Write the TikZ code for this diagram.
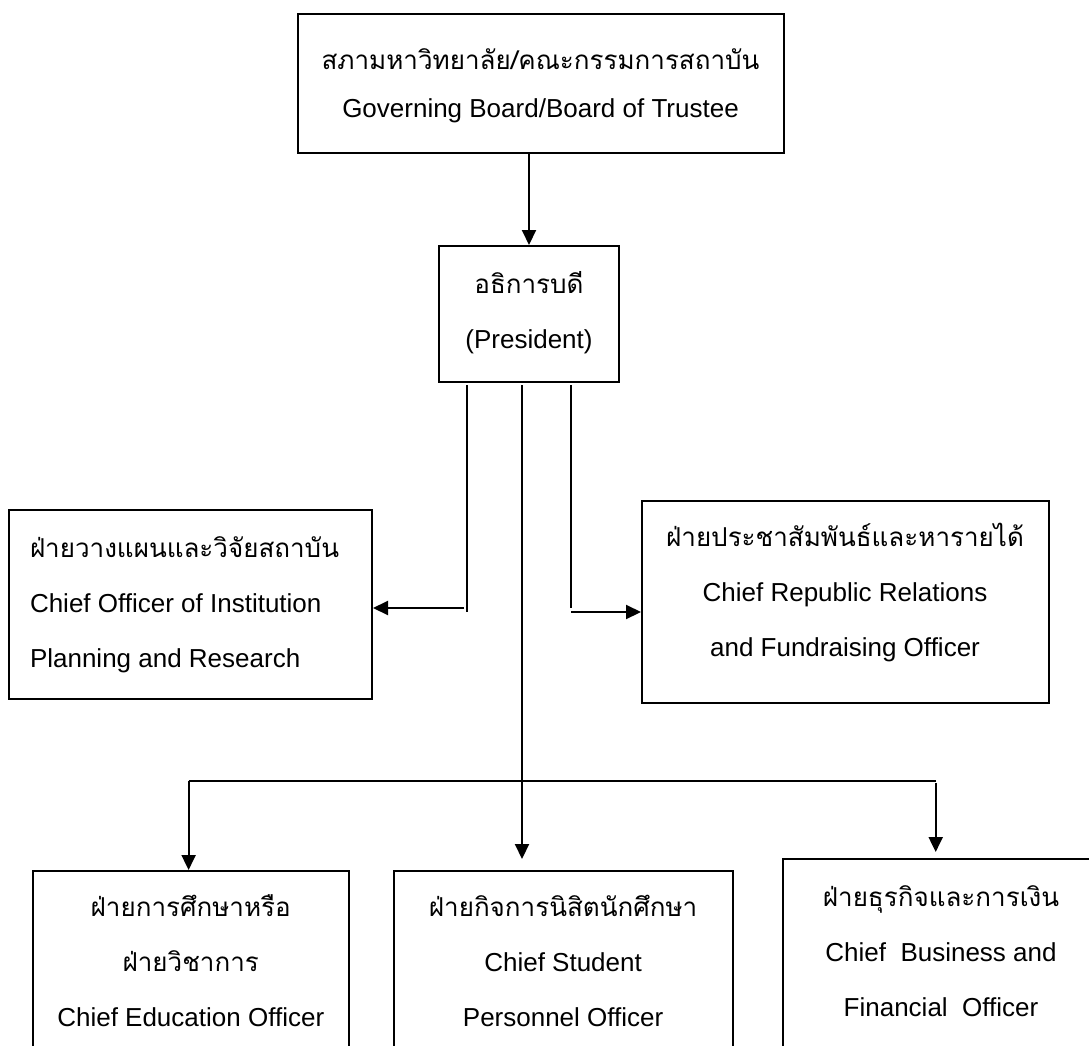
\documentclass[tikz,border=0pt]{standalone}
\usepackage{fontspec}
\setmainfont{Liberation Sans}
\newfontfamily\thaifont[Script=Thai]{Loma}
\usetikzlibrary{arrows.meta}
% fixes the height of the first line so its baseline can be placed exactly
\newcommand\firststrut{\rule{0pt}{34pt}}
\begin{document}
\begin{tikzpicture}[x=1pt, y=-1pt,
  box/.style={draw, rectangle, line width=2pt, inner sep=0pt},
  boxtext/.style={inner sep=0pt, outer sep=0pt, align=center, font=\fontsize{26}{55}\selectfont},
  link/.style={line width=2.1pt},
  arr/.style={link, -{Triangle[length=15pt,width=14pt]}}
]
\useasboundingbox (0,0) rectangle (1089,1046);
\clip (0,0) rectangle (1089,1046);

% ---- boxes ----
\node[box, minimum width=486pt, minimum height=139.3pt] (gov) at (540.5,83.7) {};
\node[box, minimum width=180pt, minimum height=136pt] (pres) at (529,314) {};
\node[box, minimum width=363pt, minimum height=189pt] (plan) at (190.5,604.5) {};
\node[box, minimum width=406.5pt, minimum height=202.3pt] (pubrel) at (845.25,602.2) {};
\node[box, minimum width=316.5pt, minimum height=239pt] (edu) at (190.75,990.5) {};
\node[box, minimum width=339pt, minimum height=239pt] (stud) at (563.1,990.5) {};
\node[box, minimum width=315.7pt, minimum height=251pt] (fin) at (941.15,984.5) {};

% ---- texts ----
\node[boxtext, anchor=north, font=\fontsize{26}{47.5}\selectfont] (gov-t) at (540.5,36)
  {\firststrut{\thaifont สภามหาวิทยาลัย/คณะกรรมการสถาบัน}\\Governing Board/Board of Trustee};
\node[boxtext, anchor=north] (pres-t) at (529,259)
  {\firststrut{\thaifont อธิการบดี}\\(President)};
\node[boxtext, anchor=north west, align=left] (plan-t) at (30,523)
  {\firststrut{\thaifont ฝ่ายวางแผนและวิจัยสถาบัน}\\Chief Officer of Institution\\Planning and Research};
\node[boxtext, anchor=north] (pubrel-t) at (845,512.7)
  {\firststrut{\thaifont ฝ่ายประชาสัมพันธ์และหารายได้}\\Chief Republic Relations\\and Fundraising Officer};
\node[boxtext, anchor=north] (edu-t) at (190.75,882.7)
  {\firststrut{\thaifont ฝ่ายการศึกษาหรือ}\\{\thaifont ฝ่ายวิชาการ}\\Chief Education Officer};
\node[boxtext, anchor=north] (stud-t) at (563.1,882.7)
  {\firststrut{\thaifont ฝ่ายกิจการนิสิตนักศึกษา}\\Chief Student\\Personnel Officer};
\node[boxtext, anchor=north] (fin-t) at (941,872.7)
  {\firststrut{\thaifont ฝ่ายธุรกิจและการเงิน}\\Chief~\ Business and\\Financial~\ Officer};

% ---- connectors ----
\draw[arr] (gov.south -| pres.north) -- (pres.north);

% to planning and research
\coordinate (pl-a) at (467,385);
\coordinate (pl-b) at (467,612);
\coordinate (pl-c) at (464,608);
\draw[link] (pl-a) -- (pl-b);
\draw[arr] (pl-c) -- (pl-c -| plan.east);

% to public relations
\coordinate (pr-a) at (571,385);
\coordinate (pr-b) at (571,608);
\coordinate (pr-c) at (571,612);
\draw[link] (pr-a) -- (pr-b);
\draw[arr] (pr-c) -- (pr-c -| pubrel.west);

% trunk to the three lower offices
\coordinate (tr-a) at (522,385);
\coordinate (tr-b) at (522,859);
\draw[arr] (tr-a) -- (tr-b);
\coordinate (bar-l) at (188.6,781);
\coordinate (bar-r) at (935.7,781);
\draw[link] (bar-l) -- (bar-r);
\draw[arr] (bar-l) -- (bar-l |- edu.north);
\coordinate (fin-a) at (935.7,783);
\coordinate (fin-b) at (935.7,852);
\draw[arr] (fin-a) -- (fin-b);
\end{tikzpicture}
\end{document}
